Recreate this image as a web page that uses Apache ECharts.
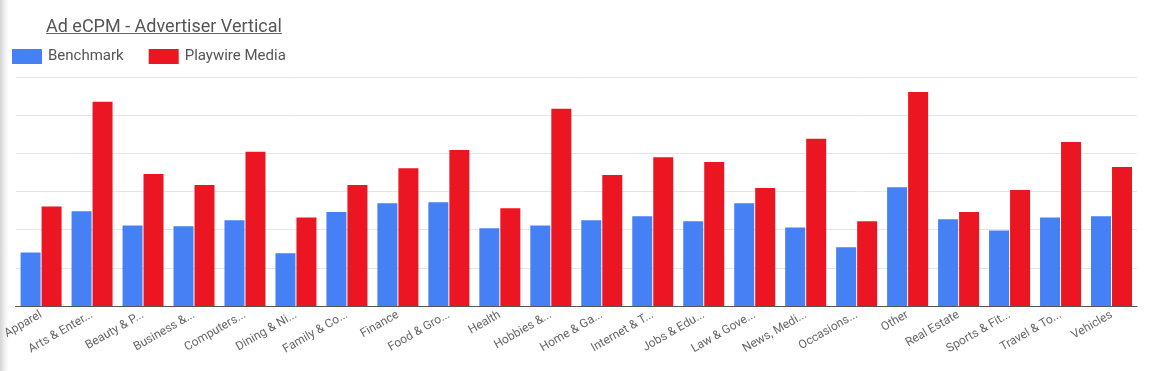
<!DOCTYPE html>
<html>
<head>
<meta charset="utf-8">
<script src="https://cdn.jsdelivr.net/npm/echarts@6/dist/echarts.min.js"></script>
<style>
html, body { margin: 0; padding: 0; background: #fff; }
body { background: linear-gradient(to right, #d4d4d4 0px, #f2f2f2 5px, #ffffff 9px); }
#chart { width: 1154px; height: 371px; }
</style>
</head>
<body>
<div id="chart"></div>
<script>
const categories = ["Apparel", "Arts & Enter...", "Beauty & P...", "Business &...", "Computers...", "Dining & Ni...", "Family & Co...", "Finance", "Food & Gro...", "Health", "Hobbies &...", "Home & Ga...", "Internet & T...", "Jobs & Edu...", "Law & Gove...", "News, Medi...", "Occasions...", "Other", "Real Estate", "Sports & Fit...", "Travel & To...", "Vehicles"];
const benchmark = [1.40, 2.48, 2.11, 2.09, 2.25, 1.38, 2.46, 2.69, 2.72, 2.04, 2.11, 2.25, 2.35, 2.22, 2.69, 2.06, 1.54, 3.11, 2.27, 1.98, 2.32, 2.35];
const playwire = [2.61, 5.35, 3.46, 3.17, 4.04, 2.32, 3.17, 3.61, 4.09, 2.56, 5.17, 3.43, 3.90, 3.77, 3.09, 4.38, 2.22, 5.61, 2.46, 3.04, 4.30, 3.64];
const seriesNames = ["Benchmark", "Playwire Media"];
const titleText = "Ad eCPM - Advertiser Vertical";

const chart = echarts.init(document.getElementById('chart'), null, { renderer: 'canvas' });
const font = 'Roboto, "Noto Sans", sans-serif';
chart.setOption({
  animation: false,
  title: {
    text: titleText,
    left: 46, top: 18, padding: 0,
    textStyle: { fontFamily: font, fontSize: 18, fontWeight: 'normal', color: '#555555' }
  },
  graphic: [{
    type: 'line',
    shape: { x1: 46, y1: 33.5, x2: 282, y2: 33.5 },
    style: { stroke: '#666666', lineWidth: 1 }
  }],
  legend: {
    left: 12, top: 49, padding: 0,
    itemWidth: 30, itemHeight: 15, itemGap: 25,
    icon: 'rect',
    textStyle: { fontFamily: font, fontSize: 15, color: '#555555', padding: [0, 0, 0, 1] },
    data: seriesNames
  },
  grid: { left: 12, right: 17, top: 77, bottom: 65, containLabel: false },
  xAxis: {
    type: 'category',
    data: categories,
    axisLine: { lineStyle: { color: '#555555', width: 1 } },
    axisTick: { show: false },
    axisLabel: {
      rotate: 30, interval: 0, margin: 8,
      fontFamily: font, fontSize: 12, color: '#666666'
    }
  },
  yAxis: {
    type: 'value', min: 0, max: 6, interval: 1,
    axisLabel: { show: false },
    axisLine: { show: false },
    axisTick: { show: false },
    splitLine: { lineStyle: { color: '#e5e5e5', width: 1 } }
  },
  series: [
    { name: seriesNames[0], type: 'bar', data: benchmark, barWidth: 20, barGap: '5%', itemStyle: { color: '#4580F5' } },
    { name: seriesNames[1], type: 'bar', data: playwire, barWidth: 20, barGap: '5%', itemStyle: { color: '#EC1622' } }
  ]
});
</script>
</body>
</html>
